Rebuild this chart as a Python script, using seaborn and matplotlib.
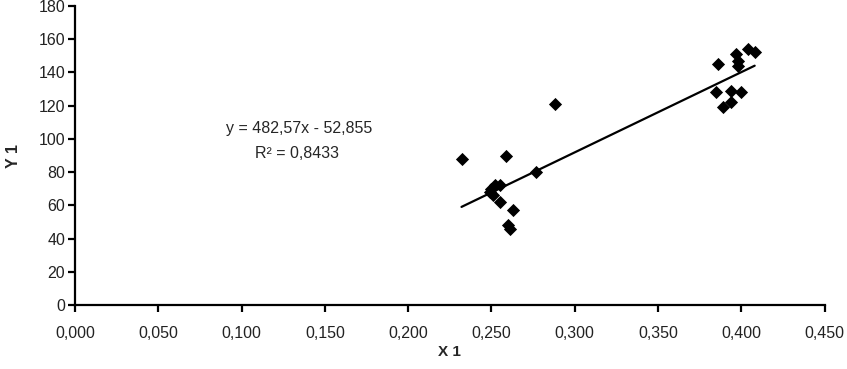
import matplotlib
matplotlib.use("Agg")
import matplotlib.pyplot as plt
from matplotlib.ticker import FuncFormatter
import seaborn as sns
import pandas as pd
import numpy as np


# --------------------------------------------------------------------------------------------------
# dados:

x1 = [0.232, 0.259, 0.288, 0.277, 0.255, 0.263, 0.260, 0.261,
      0.249, 0.250, 0.252, 0.255, 0.251,
      0.386, 0.397, 0.398, 0.398, 0.404, 0.408,
      0.385, 0.394, 0.400, 0.394, 0.389]
y1 = [88, 90, 121, 80, 62, 57, 48, 46,
      68, 70, 72, 72, 66,
      145, 151, 147, 144, 154, 152,
      128, 129, 128, 122, 119]

slope, intercept = 482.57, -52.855
eq_text = "y = 482,57x - 52,855"
r2_text = "R² = 0,8433"

x_ticks = [0.0, 0.05, 0.10, 0.15, 0.20, 0.25, 0.30, 0.35, 0.40, 0.45]
y_ticks = [0, 20, 40, 60, 80, 100, 120, 140, 160, 180]


df = pd.DataFrame({"X 1": x1, "Y 1": y1})
trend_x = np.array([min(x1), max(x1)])
trend = pd.DataFrame({"X 1": trend_x, "Y 1": slope * trend_x + intercept})

sns.set_style("ticks")
plt.rcParams["font.family"] = ["Liberation Sans", "DejaVu Sans"]

fig = plt.figure(figsize=(8.47, 3.69), dpi=100)
ax = fig.add_axes([0.0886, 0.173, 0.885, 0.811])

sns.scatterplot(data=df, x="X 1", y="Y 1", marker="D", s=45, color="black",
                edgecolor="black", linewidth=0, ax=ax, zorder=3)
sns.lineplot(data=trend, x="X 1", y="Y 1", color="black", linewidth=1.6, ax=ax, zorder=2)

ax.set_xlim(0, 0.45)
ax.set_ylim(0, 180)
ax.set_xticks(x_ticks)
ax.set_yticks(y_ticks)
ax.xaxis.set_major_formatter(FuncFormatter(lambda v, p: f"{v:.3f}".replace(".", ",")))
ax.yaxis.set_major_formatter(FuncFormatter(lambda v, p: f"{v:.0f}"))

for side in ["top", "right"]:
    ax.spines[side].set_visible(False)
for side in ["left", "bottom"]:
    ax.spines[side].set_linewidth(1.6)
    ax.spines[side].set_color("black")

ax.tick_params(axis="both", direction="out", length=5, width=1.6, colors="black",
               labelcolor="#222222")
ax.tick_params(axis="x", pad=10, labelsize=11.5)
ax.tick_params(axis="y", pad=2, labelsize=11.5)

ax.set_xlabel("X 1", fontsize=11, fontweight="bold", labelpad=3)
ax.set_ylabel("Y 1", fontsize=11.5, fontweight="bold", labelpad=13)

ax.text(0.1345, 106.5, eq_text, fontsize=11.5, ha="center", va="center")
ax.text(0.1335, 91.5, r2_text, fontsize=11.5, ha="center", va="center")

plt.savefig("out.png", dpi=100)
plt.close()
